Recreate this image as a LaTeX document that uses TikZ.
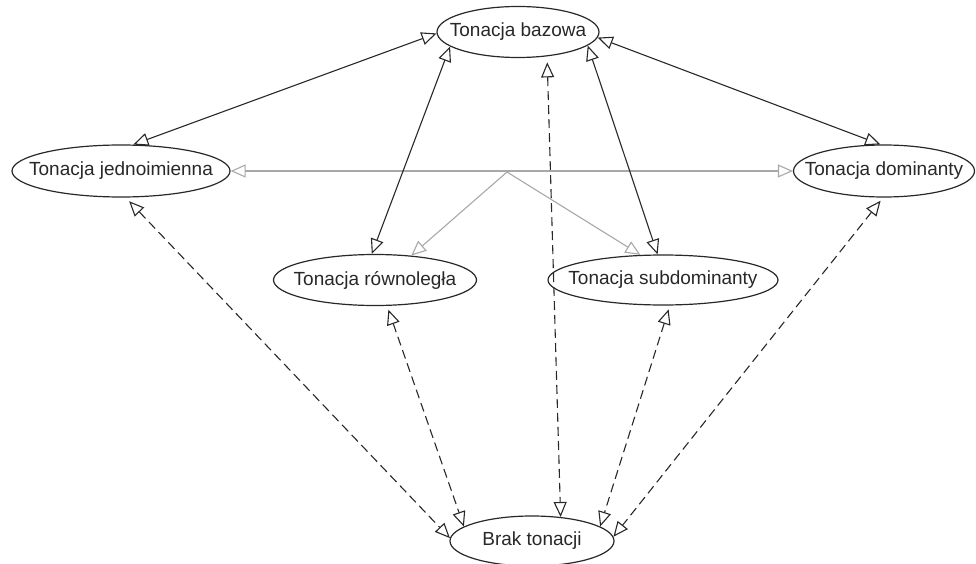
\documentclass[tikz,border=0pt]{standalone}
\usepackage{fontspec}
\setmainfont{Liberation Sans}
\usetikzlibrary{arrows.meta,shapes.geometric}
\definecolor{edgegray}{RGB}{168,168,168}
\definecolor{inkc}{RGB}{40,40,40}
\tikzset{
  state/.style={ellipse,draw=inkc,line width=1.2pt,fill=white,inner sep=0pt,
    text=inkc,font=\fontsize{19}{21}\selectfont},
  >={Triangle[open,length=15pt,width=13pt,fill=white]},
  solidlink/.style={draw=inkc,line width=1.1pt,<->},
  dashlink/.style={draw=inkc,line width=1.1pt,dash pattern=on 9pt off 5pt,<->},
  graylink/.style={draw=edgegray,line width=1.1pt},
}
\newcommand{\ztext}[1]{\makebox[0pt][c]{#1}}
\begin{document}
\begin{tikzpicture}[x=1pt,y=-1pt]
\useasboundingbox (0,0) rectangle (976,564);
\node[state,minimum width=162pt,minimum height=51pt] (baz) at (518,32) {\ztext{Tonacja bazowa}};
\node[state,minimum width=218pt,minimum height=52pt] (jed) at (121,171) {\ztext{Tonacja jednoimienna}};
\node[state,minimum width=181pt,minimum height=52pt] (dom) at (884,171) {\ztext{Tonacja dominanty}};
\node[state,minimum width=203pt,minimum height=51pt] (row) at (375,280) {\ztext{Tonacja równoległa}};
\node[state,minimum width=230pt,minimum height=50pt] (sub) at (663,280) {\ztext{Tonacja subdominanty}};
\node[state,minimum width=164pt,minimum height=50pt] (brak) at (532,541) {\ztext{Brak tonacji}};
% gray connectors
\coordinate (junc) at (507,172);
\draw[graylink,<->] (jed.east) -- (dom.west);
\draw[graylink,->] (junc) -- (row.34);
\draw[graylink,->] (junc) -- (sub.132);
% solid connectors
\draw[solidlink] (baz.181) -- (jed.65);
\draw[solidlink] (baz.-4) -- (dom.98);
\draw[solidlink] (baz.192) -- (row.97);
\draw[solidlink] (baz.-11) -- (sub.102);
% dashed connectors
\draw[dashlink,shorten <=6pt] (baz.-40) -- (brak.40);
\draw[dashlink,shorten <=5pt] (jed.-80) -- (brak.178);
\draw[dashlink,shorten <=4pt] (row.-65) -- (brak.168);
\draw[dashlink,shorten <=4pt] (sub.-75) -- (brak.12);
\draw[dashlink,shorten <=4pt] (dom.-92) -- (brak.3);
\end{tikzpicture}
\end{document}
